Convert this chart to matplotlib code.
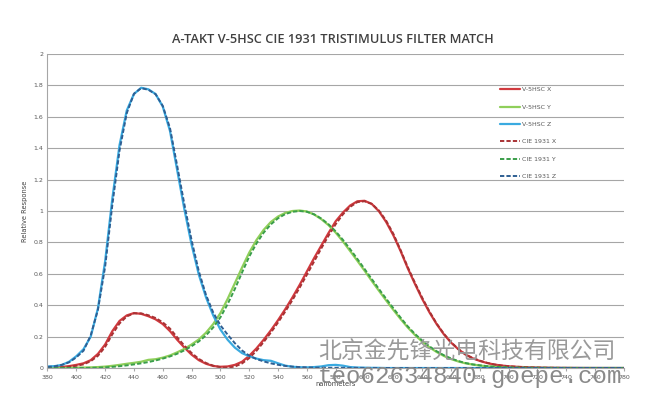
import numpy as np
import matplotlib
matplotlib.use("Agg")
import matplotlib.pyplot as plt

# wavelength grid (nm), 5 nm steps
wl = list(range(380, 785, 5))

# CIE 1931 2-degree colour matching functions (as plotted, dashed)
cie_x = [0.0014, 0.0022, 0.0042, 0.0077, 0.0143, 0.0232, 0.0435, 0.0776, 0.1344, 0.2148,
         0.2839, 0.3285, 0.3483, 0.3481, 0.3362, 0.3187, 0.2908, 0.2511, 0.1954, 0.1421,
         0.0956, 0.0580, 0.0320, 0.0147, 0.0049, 0.0024, 0.0093, 0.0291, 0.0633, 0.1096,
         0.1655, 0.2257, 0.2904, 0.3597, 0.4334, 0.5121, 0.5945, 0.6784, 0.7621, 0.8425,
         0.9163, 0.9786, 1.0263, 1.0567, 1.0622, 1.0456, 1.0026, 0.9384, 0.8544, 0.7514,
         0.6424, 0.5419, 0.4479, 0.3608, 0.2835, 0.2187, 0.1649, 0.1212, 0.0874, 0.0636,
         0.0468, 0.0329, 0.0227, 0.0158, 0.0114, 0.0081, 0.0058, 0.0041, 0.0029, 0.0020,
         0.0014, 0.0010, 0.0007, 0.0005, 0.0003, 0.0002, 0.0002, 0.0001, 0.0001, 0.0001,
         0.0000]
cie_y = [0.0000, 0.0001, 0.0001, 0.0002, 0.0004, 0.0006, 0.0012, 0.0022, 0.0040, 0.0073,
         0.0116, 0.0168, 0.0230, 0.0298, 0.0380, 0.0480, 0.0600, 0.0739, 0.0910, 0.1126,
         0.1390, 0.1693, 0.2080, 0.2586, 0.3230, 0.4073, 0.5030, 0.6082, 0.7100, 0.7932,
         0.8620, 0.9149, 0.9540, 0.9803, 0.9950, 1.0000, 0.9950, 0.9786, 0.9520, 0.9154,
         0.8700, 0.8163, 0.7570, 0.6949, 0.6310, 0.5668, 0.5030, 0.4412, 0.3810, 0.3210,
         0.2650, 0.2170, 0.1750, 0.1382, 0.1070, 0.0816, 0.0610, 0.0446, 0.0320, 0.0232,
         0.0170, 0.0119, 0.0082, 0.0057, 0.0041, 0.0029, 0.0021, 0.0015, 0.0010, 0.0007,
         0.0005, 0.0004, 0.0002, 0.0002, 0.0001, 0.0001, 0.0001, 0.0000, 0.0000, 0.0000,
         0.0000]
cie_z = [0.0065, 0.0106, 0.0201, 0.0362, 0.0679, 0.1102, 0.2074, 0.3713, 0.6456, 1.0391,
         1.3856, 1.6230, 1.7471, 1.7826, 1.7721, 1.7441, 1.6692, 1.5281, 1.2876, 1.0419,
         0.8130, 0.6162, 0.4652, 0.3533, 0.2720, 0.2123, 0.1582, 0.1117, 0.0783, 0.0573,
         0.0422, 0.0298, 0.0203, 0.0134, 0.0088, 0.0058, 0.0039, 0.0028, 0.0021, 0.0018,
         0.0017, 0.0014, 0.0011, 0.0010, 0.0008, 0.0006, 0.0003, 0.0002, 0.0002, 0.0001,
         0.0001, 0.0000, 0.0000, 0.0000, 0.0000, 0.0000, 0.0000, 0.0000, 0.0000, 0.0000,
         0.0000, 0.0000, 0.0000, 0.0000, 0.0000, 0.0000, 0.0000, 0.0000, 0.0000, 0.0000,
         0.0000, 0.0000, 0.0000, 0.0000, 0.0000, 0.0000, 0.0000, 0.0000, 0.0000, 0.0000,
         0.0000]

v5_x = [0.002, 0.004, 0.007, 0.012, 0.020, 0.030, 0.050, 0.090, 0.150, 0.235,
        0.300, 0.335, 0.350, 0.345, 0.330, 0.310, 0.280, 0.235, 0.180, 0.130,
        0.085, 0.050, 0.027, 0.013, 0.008, 0.010, 0.020, 0.040, 0.078, 0.125,
        0.180, 0.240, 0.305, 0.375, 0.450, 0.530, 0.615, 0.700, 0.780, 0.860,
        0.935, 0.990, 1.035, 1.062, 1.065, 1.045, 0.998, 0.930, 0.845, 0.745,
        0.635, 0.535, 0.440, 0.355, 0.280, 0.215, 0.162, 0.120, 0.086, 0.062,
        0.045, 0.032, 0.022, 0.016, 0.011, 0.008, 0.006, 0.004, 0.003, 0.002,
        0.0015, 0.001, 0.001, 0.0007, 0.0005, 0.0004, 0.0003, 0.0002, 0.0002, 0.0001,
        0.0001]
v5_y = [0.000, 0.000, 0.001, 0.001, 0.002, 0.003, 0.004, 0.006, 0.009, 0.014,
        0.020, 0.027, 0.033, 0.040, 0.052, 0.056, 0.066, 0.080, 0.100, 0.122,
        0.150, 0.182, 0.225, 0.280, 0.350, 0.440, 0.540, 0.640, 0.735, 0.815,
        0.880, 0.930, 0.965, 0.988, 1.000, 1.003, 0.997, 0.978, 0.948, 0.910,
        0.862, 0.806, 0.745, 0.683, 0.620, 0.555, 0.492, 0.430, 0.370, 0.312,
        0.258, 0.210, 0.168, 0.132, 0.102, 0.077, 0.057, 0.042, 0.030, 0.022,
        0.016, 0.011, 0.008, 0.005, 0.004, 0.003, 0.002, 0.0015, 0.001, 0.0007,
        0.0005, 0.0003, 0.0002, 0.0001, 0.0001, 0.0, 0.0, 0.0, 0.0, 0.0,
        0.0]
v5_z = [0.010, 0.012, 0.020, 0.040, 0.075, 0.120, 0.200, 0.380, 0.680, 1.080,
        1.420, 1.640, 1.745, 1.785, 1.775, 1.745, 1.665, 1.510, 1.260, 1.010,
        0.785, 0.595, 0.450, 0.335, 0.245, 0.180, 0.130, 0.095, 0.075, 0.060,
        0.050, 0.046, 0.030, 0.015, 0.008, 0.005, 0.004, 0.006, 0.010, 0.018,
        0.020, 0.015, 0.006, 0.003, 0.002, 0.001, 0.001, 0.0, 0.0, 0.0,
        0.0, 0.0, 0.0, 0.0, 0.0, 0.0, 0.0, 0.0, 0.0, 0.0,
        0.0, 0.0, 0.0, 0.0, 0.0, 0.0, 0.0, 0.0, 0.0, 0.0,
        0.0, 0.0, 0.0, 0.0, 0.0, 0.0, 0.0, 0.0, 0.0, 0.0,
        0.0]

x_ticks = list(range(380, 781, 20))
y_ticks = [0, 0.2, 0.4, 0.6, 0.8, 1, 1.2, 1.4, 1.6, 1.8, 2]
y_labels = ["0", "0.2", "0.4", "0.6", "0.8", "1", "1.2", "1.4", "1.6", "1.8", "2"]

fig = plt.figure(figsize=(6.47, 3.97), dpi=100)
ax = fig.add_axes([0.0734, 0.073, 0.891, 0.791])

solid_lw = 1.6
dash = (0, (2.2, 1.1))
kw = dict(solid_joinstyle="round", solid_capstyle="round")
ax.plot(wl, v5_x, color="#d0393e", lw=solid_lw, label="V-5HSC X", **kw)
ax.plot(wl, v5_y, color="#8fcf5a", lw=solid_lw, label="V-5HSC Y", **kw)
ax.plot(wl, v5_z, color="#3aaae0", lw=solid_lw, label="V-5HSC Z", **kw)
ax.plot(wl, cie_x, color="#a83234", lw=1.4, ls=dash, label="CIE 1931 X")
ax.plot(wl, cie_y, color="#3a9e4a", lw=1.4, ls=dash, label="CIE 1931 Y")
ax.plot(wl, cie_z, color="#2e5f93", lw=1.4, ls=dash, label="CIE 1931 Z")

ax.set_xlim(380, 780)
ax.set_ylim(0, 2)
ax.set_xticks(x_ticks)
ax.set_yticks(y_ticks)
ax.set_yticklabels(y_labels)
ax.tick_params(axis="both", labelsize=4.5, colors="#595959", length=0, pad=3)
ax.tick_params(axis="x", length=2, color="#a6a6a6")
ax.grid(axis="y", color="#a6a6a6", lw=0.8)
ax.set_axisbelow(True)
for s in ["top", "right"]:
    ax.spines[s].set_visible(False)
for s in ["left", "bottom"]:
    ax.spines[s].set_color("#a6a6a6")
    ax.spines[s].set_linewidth(0.8)

ax.set_ylabel("Relative Response", fontsize=4.8, color="#404040", labelpad=4)
ax.set_xlabel("nanometers", fontsize=4.8, color="#404040")
ax.xaxis.set_label_coords(0.5, -0.04)

fig.text(0.515, 0.90, "A-TAKT V-5HSC CIE 1931 TRISTIMULUS FILTER MATCH",
         ha="center", va="center", fontsize=9.2, fontweight="semibold",
         family="Open Sans", color="#404040")

leg = ax.legend(loc="upper left", bbox_to_anchor=(0.78, 0.903), frameon=False,
                fontsize=4.5, handlelength=3.3, handletextpad=0.2,
                labelspacing=1.92, borderaxespad=0)
for t in leg.get_texts():
    t.set_color("#595959")

# watermark
fig.text(318 / 647, 1 - 352 / 397, "北京金先锋光电科技有限公司", ha="left", va="center",
         fontsize=16.5, color="#9a9a9a", family=["Noto Sans CJK SC", "DejaVu Sans"])
fig.text(318 / 647, 1 - 377 / 397, "teo62634840.goepe.com", ha="left", va="center",
         fontsize=17.4, color="#8a8a8a", family="Liberation Mono")

fig.savefig("out.png", dpi=100)
